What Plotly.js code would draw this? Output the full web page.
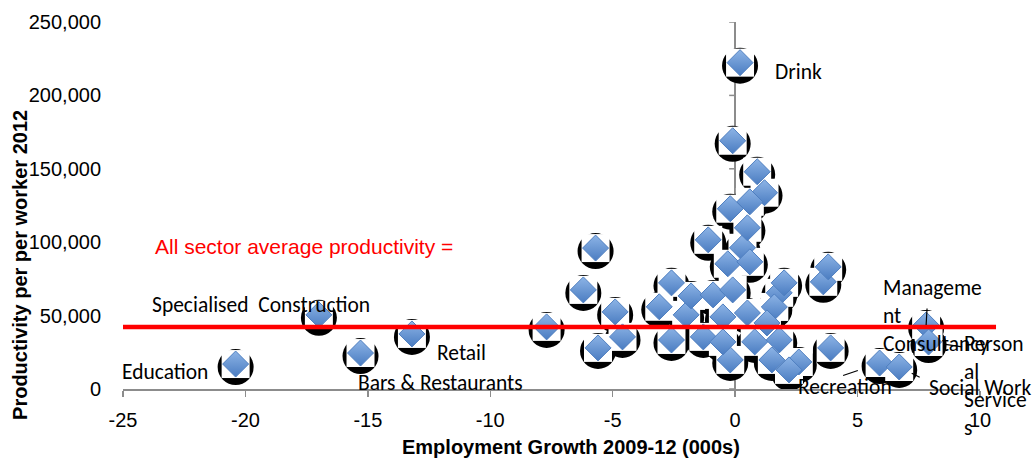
<!DOCTYPE html>
<html>
<head>
<meta charset="utf-8">
<script src="https://cdn.plot.ly/plotly-3.0.1.min.js"></script>
<style>html,body{margin:0;padding:0;background:#fff;}#chart{width:1033px;height:458px;}</style>
</head>
<body>
<div id="chart"></div>
<script>
// Employment growth 2009-12 (000s) per sector
const growth = [
  -20.4, -17.0, -15.3, -13.2, -7.7, -6.2, -5.7, -5.6, -4.9, -4.6,
  -3.1, -2.6, -2.0, -2.6, -1.8, -1.3, -1.1, -0.9, -0.5, -0.3,
  -0.2, -0.2, -0.1, -0.1, 0.2, 0.3, 0.5, 0.9, 1.2, 1.8,
  2.0, 2.6, 3.6, 3.8, 3.9, 5.9, 6.7, 7.8, 7.9, 0.5,
  1.6, 0.8, 1.3, 1.5, 2.2, 1.8, -0.5, 0.6, 0.6
];
// Productivity per worker 2012
const productivity = [
  17000, 50500, 24500, 37500, 42300, 67500, 96000, 28000, 52500, 35500,
  56000, 72300, 50500, 33400, 63400, 35500, 101600, 64100, 49100, 85300,
  122800, 19800, 67500, 169100, 222300, 96200, 109800, 148000, 133700, 65500,
  72300, 18400, 73000, 83200, 28000, 17700, 15000, 43600, 32000, 51800,
  55900, 32100, 45000, 19800, 13000, 33400, 32100, 86600, 127500
];
const avgProductivity = 42300;
const avgText = 'All sector average productivity =';

const labelNames = ['Education', 'Specialised  Construction', 'Bars & Restaurants', 'Retail', 'Drink',
  'Manageme<br>nt<br>Consultancy', 'Person<br>al<br>Service<br>s', 'Recreation', 'Social Work'];
const labelIndex = [0, 1, 2, 3, 24, 37, 38, 35, 36];

const xTicks = [-25, -20, -15, -10, -5, 0, 5, 10];
const yTicks = [0, 50000, 100000, 150000, 200000, 250000];

const xRange = [-25, 10];
const yRange = [0, 250000];
const plotH = 458 - 22 - 69;
const shadowShift = 3 / plotH * (yRange[1] - yRange[0]);

const labelStyle = {
  'Education': {xanchor: 'right', xshift: -26, yshift: -8},
  'Specialised  Construction': {xanchor: 'center', xshift: -58, yshift: 10},
  'Bars & Restaurants': {xanchor: 'left', xshift: -5, yshift: -30},
  'Retail': {xanchor: 'left', xshift: 23, yshift: -19},
  'Drink': {xanchor: 'left', xshift: 33, yshift: -9},
  'Manageme<br>nt<br>Consultancy': {xanchor: 'left', xshift: -45, yshift: 9},
  'Person<br>al<br>Service<br>s': {xanchor: 'left', xshift: 33, yshift: -44},
  'Recreation': {xanchor: 'center', xshift: -35, yshift: -24},
  'Social Work': {xanchor: 'left', xshift: 28, yshift: -21}
};
const leaderStyle = {
  'Manageme<br>nt<br>Consultancy': {ax: 1, ay: -18, standoff: 0},
  'Person<br>al<br>Service<br>s': {ax: 35, ay: 5, standoff: 17},
  'Recreation': {ax: -38, ay: 13, standoff: 23},
  'Social Work': {ax: 22, ay: 11, standoff: 14}
};

const labelFont = {family: 'Carlito, Lato, sans-serif', size: 21.5, color: '#000'};
const axisFont = {family: 'Liberation Sans, Arial, sans-serif', size: 20, color: '#000'};

const traces = [
  {x: [], y: [], type: 'scatter', mode: 'markers', showlegend: false, hoverinfo: 'skip'},
  {x: growth, y: productivity, type: 'scatter', mode: 'markers', yaxis: 'y2', cliponaxis: false,
   showlegend: false, hoverinfo: 'skip',
   marker: {symbol: 'circle', size: 36, color: '#000000', line: {width: 0}}},
  {x: growth, y: productivity, type: 'scatter', mode: 'markers', yaxis: 'y3', cliponaxis: false,
   showlegend: false, hoverinfo: 'skip',
   marker: {symbol: 'square', size: 28, color: '#ffffff', line: {width: 0}}},
  {x: growth, y: productivity, type: 'scatter', mode: 'markers', yaxis: 'y3', cliponaxis: false,
   showlegend: false, name: 'Sectors',
   marker: {symbol: 'diamond', size: 20, color: '#8db4e6',
            gradient: {type: 'vertical', color: '#4a7cc1'},
            line: {width: 1, color: '#4f7fc0'}}}
];

const annotations = [];
labelNames.forEach((name, k) => {
  const i = labelIndex[k];
  const s = labelStyle[name];
  annotations.push({x: growth[i], y: productivity[i], xref: 'x', yref: 'y', text: name,
    showarrow: false, xanchor: s.xanchor, yanchor: 'middle', xshift: s.xshift, yshift: s.yshift,
    align: 'left', font: labelFont});
  const l = leaderStyle[name];
  if (l) {
    annotations.push({x: growth[i], y: productivity[i], xref: 'x', yref: 'y', text: '',
      showarrow: true, arrowhead: 0, arrowwidth: 1.2, arrowcolor: '#000',
      ax: l.ax, ay: l.ay, standoff: l.standoff});
  }
});
annotations.push({xref: 'paper', yref: 'paper', x: 0.035, y: 0.387, xanchor: 'left', yanchor: 'middle',
  text: avgText, showarrow: false, font: {family: 'Liberation Sans, Arial, sans-serif', size: 21, color: '#ff0000'}});
annotations.push({xref: 'paper', yref: 'paper', x: 0.5228, y: -0.158, xanchor: 'center', yanchor: 'middle',
  text: '<b>Employment Growth 2009-12 (000s)</b>', showarrow: false,
  font: {family: 'Liberation Sans, Arial, sans-serif', size: 20, color: '#000'}});
annotations.push({xref: 'paper', yref: 'paper', x: -0.1202, y: 0.338, xanchor: 'center', yanchor: 'middle',
  textangle: -90, text: '<b>Productivity per per worker 2012</b>', showarrow: false,
  font: {family: 'Liberation Sans, Arial, sans-serif', size: 20, color: '#000'}});

const shapes = [
  {type: 'line', xref: 'paper', yref: 'y', x0: 0, x1: 1.0187, y0: avgProductivity, y1: avgProductivity,
   line: {color: '#ff0000', width: 4.5}, layer: 'above'}
];
yTicks.forEach(v => {
  shapes.push({type: 'line', xref: 'x', yref: 'y', xsizemode: 'pixel', xanchor: 0, x0: -6, x1: 0,
    y0: v, y1: v, line: {color: '#8c8c8c', width: 1.5}, layer: 'below'});
});

const layout = {
  width: 1033, height: 458,
  margin: {l: 123, r: 53, t: 22, b: 69, pad: 0},
  paper_bgcolor: '#ffffff', plot_bgcolor: '#ffffff',
  showlegend: false,
  xaxis: {range: xRange, tickvals: xTicks, ticktext: xTicks.map(String), showgrid: false,
    zeroline: true, zerolinecolor: '#8c8c8c', zerolinewidth: 1.5,
    showline: true, linecolor: '#8c8c8c', linewidth: 1.5,
    ticks: 'outside', ticklen: 6, tickwidth: 1.5, tickcolor: '#8c8c8c',
    ticklabelstandoff: 6, tickfont: axisFont, fixedrange: true},
  yaxis: {range: yRange, tickvals: yTicks, tickformat: ',d', showgrid: false, zeroline: false,
    showline: false, ticks: 'outside', ticklen: 17, tickcolor: 'rgba(0,0,0,0)',
    tickfont: axisFont, fixedrange: true},
  yaxis2: {range: [yRange[0] + shadowShift, yRange[1] + shadowShift], overlaying: 'y', visible: false, fixedrange: true},
  yaxis3: {range: yRange, overlaying: 'y', visible: false, fixedrange: true},
  annotations: annotations,
  shapes: shapes
};

Plotly.newPlot('chart', traces, layout, {displayModeBar: false, staticPlot: true});
</script>
</body>
</html>
